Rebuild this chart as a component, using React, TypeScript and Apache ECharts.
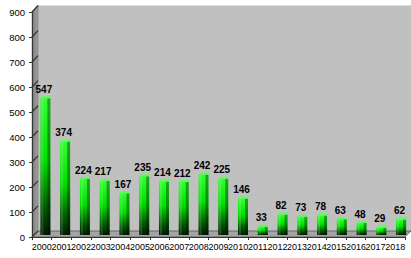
import React, { useEffect, useRef } from "react";
import * as echarts from "echarts";

const categories = ["2000","2001","2002","2003","2004","2005","2006","2007","2008","2009","2010","2011","2012","2013","2014","2015","2016","2017","2018"];
const values = [547, 374, 224, 217, 167, 235, 214, 212, 242, 225, 146, 33, 82, 73, 78, 63, 48, 29, 62];
const yMin = 0;
const yMax = 900;
const yStep = 100;

const FONT = "Arial, 'Liberation Sans', sans-serif";

// layout (3D wall illusion)
const W = 411, H = 258;
const FRONT_L = 32, FRONT_T = 12, FRONT_B = 237;
const BACK_L = 38, BACK_T = 5.5, BACK_B = 231;

export default function App() {
  const ref = useRef<HTMLDivElement>(null);
  useEffect(() => {
    if (!ref.current) return;
    const chart = echarts.init(ref.current, null, { renderer: "svg" });
    const ticks: number[] = [];
    for (let v = yMin; v <= yMax; v += yStep) ticks.push(v);
    const fy = (v: number) => FRONT_B - ((v - yMin) / (yMax - yMin)) * (FRONT_B - FRONT_T);
    const by = (v: number) => BACK_B - ((v - yMin) / (yMax - yMin)) * (BACK_B - BACK_T);

    const sideLines = ticks.map((t) => ({
      type: "line",
      z: 2,
      shape: { x1: FRONT_L, y1: fy(t), x2: BACK_L, y2: by(t) },
      style: { stroke: "#333", lineWidth: 1.2 },
    }));

    const barGrad = new echarts.graphic.LinearGradient(0, 0, 0, 1, [
      { offset: 0, color: "#33ff33" },
      { offset: 0.45, color: "#00e000" },
      { offset: 0.8, color: "#005a00" },
      { offset: 1, color: "#001c00" },
    ]);

    chart.setOption({
      animation: false,
      backgroundColor: "#ffffff",
      grid: [
        { left: BACK_L, right: 0, top: BACK_T, bottom: H - BACK_B, show: true, backgroundColor: "#c0c0c0", borderWidth: 0 },
        { left: FRONT_L, right: 6, top: FRONT_T, bottom: H - FRONT_B },
        { left: 35.5, width: 376.5, top: 10, bottom: 23 },
      ],
      xAxis: [
        { gridIndex: 0, type: "category", data: categories, show: false },
        {
          gridIndex: 1, type: "category", data: categories,
          axisLine: { show: true, lineStyle: { color: "#333", width: 1 } },
          axisTick: { show: true, length: 3, lineStyle: { color: "#333" } },
          axisLabel: { interval: 0, color: "#000", fontSize: 9, fontFamily: FONT, margin: 5, hideOverlap: false },
          z: 5,
        },
        { gridIndex: 2, type: "category", data: categories, show: false },
      ],
      yAxis: [
        {
          gridIndex: 0, type: "value", min: yMin, max: yMax, interval: yStep,
          axisLine: { show: false }, axisTick: { show: false }, axisLabel: { show: false },
          splitLine: { show: true, lineStyle: { color: "#222", width: 1.6, shadowColor: "#7a7a7a", shadowOffsetY: 1.5, shadowBlur: 0 } },
        },
        {
          gridIndex: 1, type: "value", min: yMin, max: yMax, interval: yStep,
          axisLine: { show: true, lineStyle: { color: "#333", width: 1 } },
          axisTick: { show: true, length: 3, lineStyle: { color: "#333" } },
          axisLabel: { color: "#000", fontSize: 9.5, fontFamily: FONT, margin: 7 },
          splitLine: { show: false },
          z: 5,
        },
        { gridIndex: 2, type: "value", min: yMin, max: yMax, interval: yStep, show: false, splitLine: { show: false } },
      ],
      graphic: [
        {
          type: "polygon", z: 1,
          shape: { points: [[FRONT_L, FRONT_T], [BACK_L, BACK_T], [BACK_L, BACK_B], [FRONT_L, FRONT_B]] },
          style: {
            fill: new echarts.graphic.LinearGradient(0, 0, 1, 0, [
              { offset: 0, color: "#7a7a7a" },
              { offset: 1, color: "#a2a2a2" },
            ]),
            stroke: "#666", lineWidth: 0.5,
          },
        },
        {
          type: "polygon", z: 1,
          shape: { points: [[FRONT_L, FRONT_B], [BACK_L, BACK_B], [W, BACK_B], [W - 6, FRONT_B]] },
          style: { fill: "#a4a4a4", stroke: "#555", lineWidth: 0.8 },
        },
        ...sideLines,
      ],
      series: [
        {
          type: "custom",
          xAxisIndex: 2,
          yAxisIndex: 2,
          z: 4,
          data: values.map((v, i) => [i, v]),
          encode: { x: 0, y: 1 },
          renderItem: (params: any, api: any) => {
            const v = api.value(1);
            const top = api.coord([api.value(0), v]);
            const bot = api.coord([api.value(0), 0]);
            const w = 10;
            const x0 = top[0] - w / 2;
            const h = bot[1] - top[1];
            return {
              type: "group",
              children: [
                { type: "rect", shape: { x: x0, y: top[1], width: w, height: h }, style: { fill: barGrad } },
                { type: "rect", shape: { x: x0 + w - 3, y: top[1], width: 3, height: h }, style: { fill: "rgba(0,0,0,0.35)" } },
                { type: "rect", shape: { x: x0 + 1, y: top[1], width: 2, height: h }, style: { fill: "rgba(255,255,255,0.15)" } },
                { type: "polygon", shape: { points: [[x0, top[1]], [x0 + 2, top[1] - 2], [x0 + w + 1, top[1] - 2], [x0 + w, top[1]]] }, style: { fill: "#55ff55" } },
                {
                  type: "text",
                  style: { text: String(v), x: top[0] - 1.5, y: top[1] - 4, align: "center", verticalAlign: "bottom", font: `bold 10px ${FONT}`, fill: "#000" },
                },
              ],
            };
          },
        },
      ],
    });
    return () => chart.dispose();
  }, []);
  return <div ref={ref} style={{ position: "fixed", left: 0, top: 0, width: W, height: H }} />;
}
